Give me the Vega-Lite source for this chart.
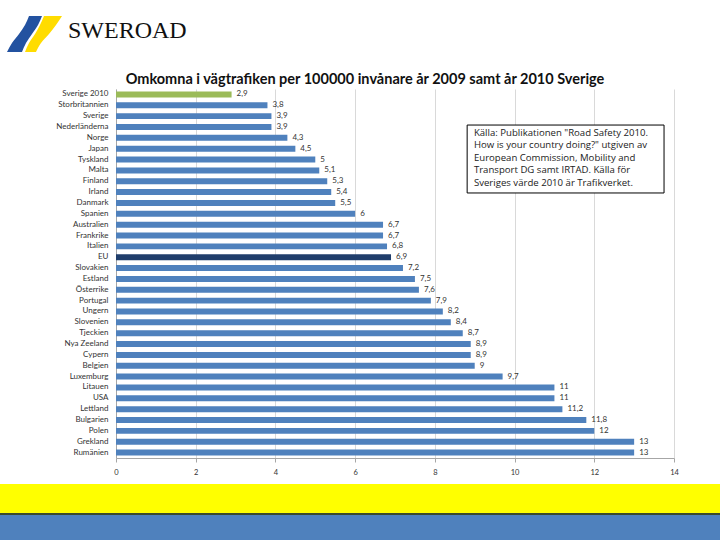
{
  "$schema": "https://vega.github.io/schema/vega-lite/v6.json",
  "background": "white",
  "padding": 0,
  "config": {
    "view": {"stroke": null},
    "font": "Lato",
    "locale": {"number": {"decimal": ",", "thousands": " ", "grouping": [3], "currency": ["", " kr"]}}
  },
  "spacing": 0,
  "vconcat": [
    {
      "width": 720,
      "height": 71,
      "layer": [
        {
          "data": {"values": [
            {"stripe": "blå", "y": 16, "xl": 29, "xr": 42},
            {"stripe": "blå", "y": 25, "xl": 25, "xr": 38},
            {"stripe": "blå", "y": 34, "xl": 19, "xr": 32},
            {"stripe": "blå", "y": 43, "xl": 12, "xr": 26},
            {"stripe": "blå", "y": 52, "xl": 7, "xr": 22},
            {"stripe": "gul", "y": 16, "xl": 44, "xr": 62},
            {"stripe": "gul", "y": 25, "xl": 40, "xr": 56},
            {"stripe": "gul", "y": 34, "xl": 35, "xr": 49},
            {"stripe": "gul", "y": 43, "xl": 29, "xr": 41},
            {"stripe": "gul", "y": 52, "xl": 25, "xr": 36}
          ]},
          "mark": {"type": "area", "orient": "horizontal", "interpolate": "monotone"},
          "encoding": {
            "y": {"field": "y", "type": "quantitative", "scale": {"domain": [0, 71], "reverse": true, "nice": false}, "axis": null},
            "x": {"field": "xl", "type": "quantitative", "scale": {"domain": [0, 720], "nice": false}, "axis": null},
            "x2": {"field": "xr"},
            "color": {"field": "stripe", "type": "nominal", "scale": {"domain": ["blå", "gul"], "range": ["#2352a0", "#ffdc00"]}, "legend": null}
          }
        },
        {
          "data": {"values": [{"logo": "SWEROAD", "x": 68, "y": 38}]},
          "mark": {"type": "text", "align": "left", "baseline": "alphabetic", "font": "Liberation Serif", "fontSize": 24, "color": "#111111"},
          "encoding": {
            "x": {"field": "x", "type": "quantitative", "scale": {"domain": [0, 720], "nice": false}, "axis": null},
            "y": {"field": "y", "type": "quantitative", "scale": {"domain": [0, 71], "reverse": true, "nice": false}, "axis": null},
            "text": {"field": "logo"}
          }
        }
      ]
    },
    {
      "spacing": 0,
      "hconcat": [
        {"width": 1, "height": 369, "data": {"values": [{"s": 0}]}, "mark": {"type": "rect", "opacity": 0}, "encoding": {}},
        {
          "width": 558,
          "height": 369,
          "title": {"text": "Omkomna i vägtrafiken per 100000 invånare år 2009 samt år 2010 Sverige", "font": "Lato", "fontSize": 14.5, "fontWeight": "bold", "color": "#111111", "anchor": "middle", "dx": -30, "offset": 2},
          "layer": [
            {
              "data": {"values": [
                {"land": "Sverige 2010", "varde": 2.9},
                {"land": "Storbritannien", "varde": 3.8},
                {"land": "Sverige", "varde": 3.9},
                {"land": "Nederländerna", "varde": 3.9},
                {"land": "Norge", "varde": 4.3},
                {"land": "Japan", "varde": 4.5},
                {"land": "Tyskland", "varde": 5},
                {"land": "Malta", "varde": 5.1},
                {"land": "Finland", "varde": 5.3},
                {"land": "Irland", "varde": 5.4},
                {"land": "Danmark", "varde": 5.5},
                {"land": "Spanien", "varde": 6},
                {"land": "Australien", "varde": 6.7},
                {"land": "Frankrike", "varde": 6.7},
                {"land": "Italien", "varde": 6.8},
                {"land": "EU", "varde": 6.9},
                {"land": "Slovakien", "varde": 7.2},
                {"land": "Estland", "varde": 7.5},
                {"land": "Österrike", "varde": 7.6},
                {"land": "Portugal", "varde": 7.9},
                {"land": "Ungern", "varde": 8.2},
                {"land": "Slovenien", "varde": 8.4},
                {"land": "Tjeckien", "varde": 8.7},
                {"land": "Nya Zeeland", "varde": 8.9},
                {"land": "Cypern", "varde": 8.9},
                {"land": "Belgien", "varde": 9},
                {"land": "Luxemburg", "varde": 9.7},
                {"land": "Litauen", "varde": 11},
                {"land": "USA", "varde": 11},
                {"land": "Lettland", "varde": 11.2},
                {"land": "Bulgarien", "varde": 11.8},
                {"land": "Polen", "varde": 12},
                {"land": "Grekland", "varde": 13},
                {"land": "Rumänien", "varde": 13}
              ]},
              "encoding": {
                "y": {"field": "land", "type": "nominal", "sort": null, "scale": {"paddingInner": 0.45},
                  "axis": {"title": null, "ticks": false, "domainColor": "#a6a6a6", "labelFontSize": 8, "labelColor": "#333333", "labelPadding": 8, "minExtent": 115, "maxExtent": 200}},
                "x": {"field": "varde", "type": "quantitative", "scale": {"domain": [0, 14]},
                  "axis": {"title": null, "values": [0, 2, 4, 6, 8, 10, 12, 14], "grid": true, "gridColor": "#d9d9d9", "domainColor": "#a6a6a6", "tickColor": "#a6a6a6", "tickSize": 4, "labelFontSize": 7.5, "labelColor": "#333333", "labelPadding": 6, "labelFlush": false, "minExtent": 26}}
              },
              "layer": [
                {
                  "mark": {"type": "bar"},
                  "encoding": {
                    "color": {"condition": [
                      {"test": "datum.land === 'Sverige 2010'", "value": "#9bbb59"},
                      {"test": "datum.land === 'EU'", "value": "#1f3d6b"}
                    ], "value": "#4f81bd"}
                  }
                },
                {
                  "mark": {"type": "text", "align": "left", "dx": 5, "fontSize": 8, "color": "#333333"},
                  "encoding": {"text": {"field": "varde", "type": "quantitative", "format": ".1~f"}}
                }
              ]
            },
            {
              "data": {"values": [
                {"x1": 8.81, "x2": 13.75, "y1": 3.32, "y2": 9.58, "tx": 8.98, "ty": 3.6, "note": "Källa: Publikationen \"Road Safety 2010.\nHow is your country doing?\" utgiven av\nEuropean Commission, Mobility and\nTransport DG samt IRTAD.  Källa för\nSveriges värde 2010 är Trafikverket."}
              ]},
              "layer": [
                {
                  "mark": {"type": "rect", "fill": "white", "stroke": "black", "strokeWidth": 1},
                  "encoding": {
                    "x": {"field": "x1", "type": "quantitative"},
                    "x2": {"field": "x2"},
                    "y": {"field": "y1", "type": "quantitative", "scale": {"domain": [0, 34], "reverse": true}, "axis": null},
                    "y2": {"field": "y2"}
                  }
                },
                {
                  "mark": {"type": "text", "align": "left", "baseline": "top", "font": "Open Sans", "fontSize": 9.6, "lineHeight": 12.4, "lineBreak": "\n", "color": "#222222"},
                  "encoding": {
                    "x": {"field": "tx", "type": "quantitative"},
                    "y": {"field": "ty", "type": "quantitative", "scale": {"domain": [0, 34], "reverse": true}, "axis": null},
                    "text": {"field": "note"}
                  }
                }
              ]
            }
          ],
          "resolve": {"scale": {"y": "independent"}, "axis": {"y": "independent"}}
        }
      ]
    },
    {
      "spacing": 0,
      "vconcat": [
        {"width": 720, "height": 29, "data": {"values": [{"band": "gul"}]}, "mark": {"type": "rect", "color": "#ffff00"}, "encoding": {}, "view": {"fill": "#ffff00", "stroke": null}},
        {"width": 720, "height": 2, "data": {"values": [{"band": "linje"}]}, "mark": {"type": "rect", "color": "#3b4a2c"}, "encoding": {}, "view": {"fill": "#3b4a2c", "stroke": null}},
        {"width": 720, "height": 25, "data": {"values": [{"band": "blå"}]}, "mark": {"type": "rect", "color": "#4f81bd"}, "encoding": {}, "view": {"fill": "#4f81bd", "stroke": null}}
      ]
    }
  ]
}
